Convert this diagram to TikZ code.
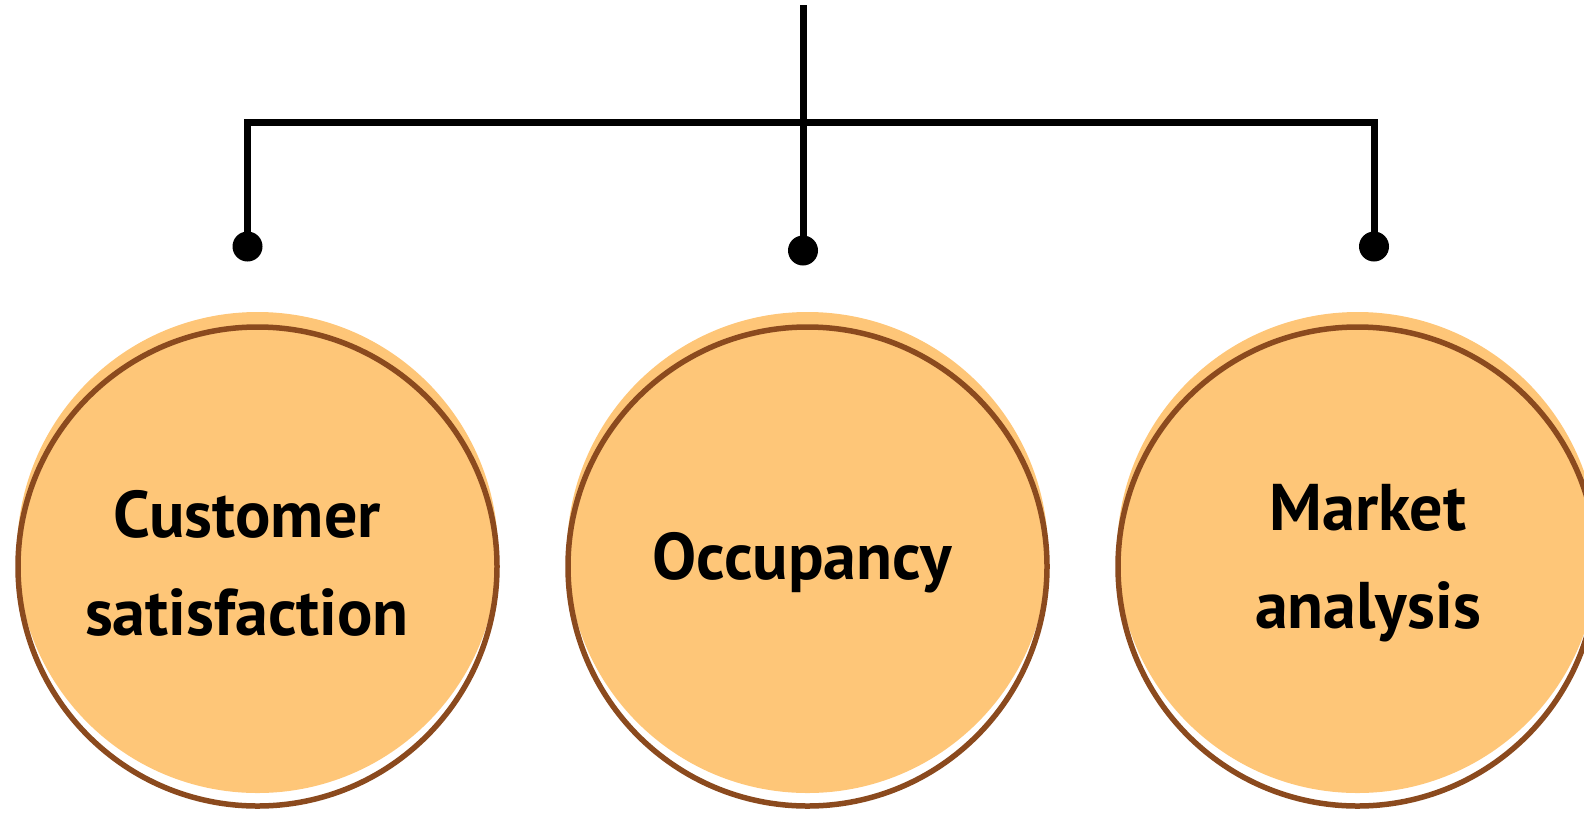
\documentclass[tikz,border=0pt]{standalone}
\usepackage{fontspec}
\setmainfont{PT Sans}
\definecolor{discfill}{RGB}{254,198,120}
\definecolor{ringbrown}{RGB}{139,74,30}
\tikzset{
  wire/.style={line width=7pt, black, line join=miter},
  dotnode/.style={circle, fill=black, inner sep=0pt, minimum size=30pt},
  disc/.style={circle, fill=discfill, inner sep=0pt, minimum size=481pt},
  ring/.style={circle, draw=ringbrown, line width=5.5pt, inner sep=0pt, minimum size=479pt},
  label/.style={align=center, font=\bfseries\fontsize{66}{98}\selectfont, text=black}
}
\begin{document}
\begin{tikzpicture}[x=1pt, y=-1pt]
  \useasboundingbox (0,0) rectangle (1584,812);
  \clip (0,0) rectangle (1584,812);

  % three category discs, each with a slightly lowered brown ring
  \foreach \cx/\nm in {257.5/L, 807.5/M, 1357.5/R} {
    \node[disc] (disc\nm) at (\cx,552.5) {};
    \node[ring] (ring\nm) at (\cx,566.5) {};
  }

  % labels
  \node[label] (tL) at (247,563) {Customer\\satisfaction};
  \node[label] (tM) at (802,563) {Occupancy};
  \node[label] (tR) at (1368,563) {Market\\analysis};

  % connector tree
  \coordinate (top)  at (803,5);
  \coordinate (hubL) at (247.5,122.5);
  \coordinate (hubR) at (1374,122.5);
  \node[dotnode] (dL) at (247.5,246.5) {};
  \node[dotnode] (dM) at (803,250.5) {};
  \node[dotnode] (dR) at (1374,246.5) {};

  \draw[wire] (top) -- (dM.center);
  \draw[wire] (dL.center) -- (hubL) -- (hubR) -- (dR.center);
\end{tikzpicture}
\end{document}
